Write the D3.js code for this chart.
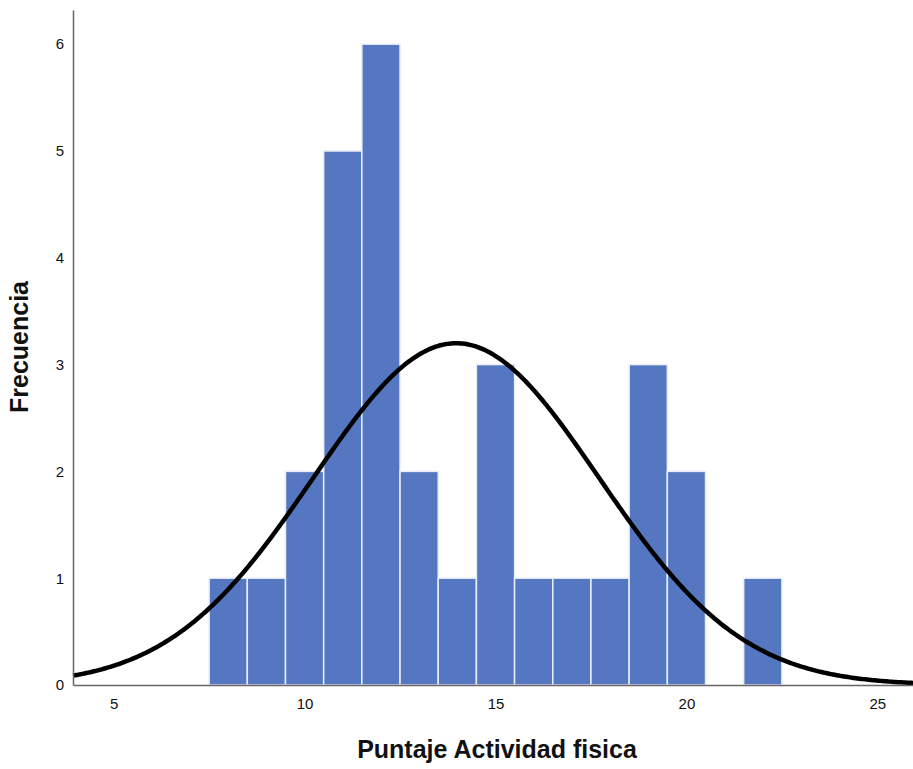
<!DOCTYPE html>
<html>
<head>
<meta charset="utf-8">
<script src="https://cdn.jsdelivr.net/npm/d3@7"></script>
<style>
  body { margin: 0; background: #fff; }
  svg text { font-family: "Liberation Sans", Arial, sans-serif; }
</style>
</head>
<body>
<div class="main"></div>
<script>
// Histogram bins (centre of each bin) and counts
const binCenters = [8, 9, 10, 11, 12, 13, 14, 15, 16, 17, 18, 19, 20, 22];
const frequencies = [1, 1, 2, 5, 6, 2, 1, 3, 1, 1, 1, 3, 2, 1];
const xTicks = [5, 10, 15, 20, 25];
const yTicks = [0, 1, 2, 3, 4, 5, 6];

// Fitted normal curve parameters
const n = 30;
const mean = 13.97;
const sd = 3.74;
const binWidth = 1;

const w = 913;
const h = 769;
const plotLeft = 73;
const plotRight = 918;
const plotTop = 10;
const plotBottom = 685;

const svg = d3.select(".main").append("svg").attr("width", w).attr("height", h);

const xScale = d3.scaleLinear().domain([3.935, 26.065]).range([plotLeft, plotRight]);
const yScale = d3.scaleLinear().domain([0, 6.32]).range([plotBottom, plotTop]);

// Bars
svg.append("g")
    .selectAll("rect")
    .data(binCenters)
    .enter()
    .append("rect")
    .attr("x", (d) => xScale(d - binWidth / 2))
    .attr("width", (d) => xScale(d + binWidth / 2) - xScale(d - binWidth / 2))
    .attr("y", (d, i) => yScale(frequencies[i]))
    .attr("height", (d, i) => yScale(0) - yScale(frequencies[i]))
    .attr("fill", "#5576c0")
    .attr("stroke", "#e9eef8")
    .attr("stroke-width", 1.5);

// Normal curve
const curvePts = d3.range(3.935, 26.07, 0.05).map((x) => {
    const z = (x - mean) / sd;
    return [x, (n * binWidth / (sd * Math.sqrt(2 * Math.PI))) * Math.exp(-0.5 * z * z)];
});

svg.append("path")
    .datum(curvePts)
    .attr("fill", "none")
    .attr("stroke", "#000")
    .attr("stroke-width", 4.5)
    .attr("d", d3.line().x((d) => xScale(d[0])).y((d) => yScale(d[1])));

// Axes
const xAxis = d3.axisBottom(xScale).tickValues(xTicks).tickSize(0).tickPadding(13)
    .tickFormat(d3.format("d"));
const yAxis = d3.axisLeft(yScale).tickValues(yTicks).tickSize(0).tickPadding(9)
    .tickFormat(d3.format("d"));

const gx = svg.append("g")
    .attr("transform", `translate(0,${plotBottom})`)
    .call(xAxis);
const gy = svg.append("g")
    .attr("transform", `translate(${plotLeft},0)`)
    .call(yAxis);

[gx, gy].forEach((g) => {
    g.select(".domain").attr("stroke", "#666").attr("stroke-width", 1.5);
    g.selectAll("text").attr("font-size", 15).attr("fill", "#111")
        .style("font-family", "'Liberation Sans', Arial, sans-serif");
});

// Axis titles
svg.append("text")
    .attr("x", 497)
    .attr("y", 758)
    .attr("text-anchor", "middle")
    .attr("font-size", 25)
    .attr("font-weight", "bold")
    .attr("fill", "#111")
    .text("Puntaje Actividad fisica");

svg.append("text")
    .attr("transform", "translate(28,347) rotate(-90)")
    .attr("text-anchor", "middle")
    .attr("font-size", 25)
    .attr("font-weight", "bold")
    .attr("fill", "#111")
    .text("Frecuencia");
</script>
</body>
</html>
